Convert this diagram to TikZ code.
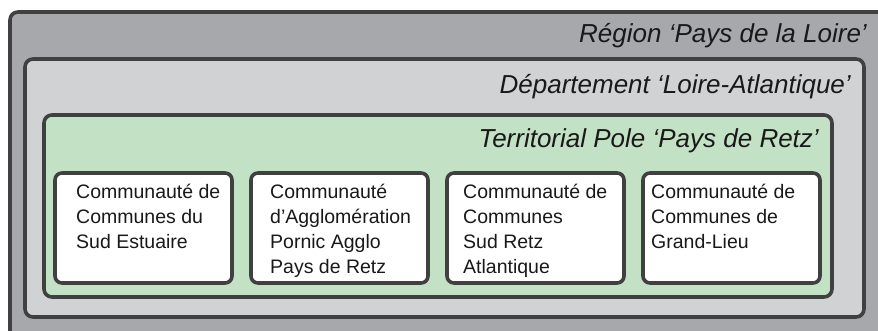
\documentclass[tikz,border=0pt]{standalone}
\usepackage{fontspec}
\setmainfont{Liberation Sans}
\usepackage{xcolor}
\usetikzlibrary{positioning}

\definecolor{regiongrey}{HTML}{A7A8AC}
\definecolor{deptgrey}{HTML}{D1D2D4}
\definecolor{polegreen}{HTML}{C3E1C4}
\definecolor{edgegrey}{HTML}{404040}

\begin{document}
\begin{tikzpicture}[x=1pt, y=-1pt, node distance=19pt,
    level/.style={draw=edgegrey, line width=3.6pt, rounded corners=8pt, outer sep=0pt, inner sep=0pt},
    commbox/.style={level, fill=white, rounded corners=7pt, minimum width=177pt, minimum height=110pt},
    title/.style={anchor=base east, inner sep=0pt, text=black!90, font=\fontsize{26}{31}\selectfont\itshape},
    commtext/.style={align=left, inner sep=0pt, text=black!90, font=\fontsize{19.5}{25}\selectfont}]
  \useasboundingbox (0,0) rectangle (878,331);
  \clip (0,0) rectangle (878,331);
  % nested levels
  \node[level, fill=regiongrey, minimum width=880pt, minimum height=330pt] (reg) at (450,177) {};
  \node[level, fill=deptgrey, minimum width=839pt, minimum height=258pt] (dep) at (444.5,188) {};
  \node[level, fill=polegreen, minimum width=788pt, minimum height=182pt] (pole) at (438,206) {};
  \node[title] (treg) at (867,43) {Région ‘Pays de la Loire’};
  \node[title] (tdep) at (851,94) {Département ‘Loire-Atlantique’};
  \node[title] (tpole) at (819,148) {Territorial Pole ‘Pays de Retz’};
  % the four communities
  \node[commbox] (c1) at (143.5,228) {};
  \node[commbox, right=of c1] (c2) {};
  \node[commbox, right=of c2] (c3) {};
  \node[commbox, right=of c3] (c4) {};
  \node[commtext, below right=11pt and 21pt of c1.north west] (t1) {Communauté de\\Communes du\\Sud Estuaire};
  \node[commtext, below right=11pt and 19pt of c2.north west] (t2) {Communauté\\d’Agglomération\\Pornic Agglo\\Pays de Retz};
  \node[commtext, below right=11pt and 16pt of c3.north west] (t3) {Communauté de\\Communes\\Sud Retz\\Atlantique};
  \node[commtext, below right=11pt and 8pt of c4.north west] (t4) {Communauté de\\Communes de\\Grand-Lieu};
\end{tikzpicture}
\end{document}
